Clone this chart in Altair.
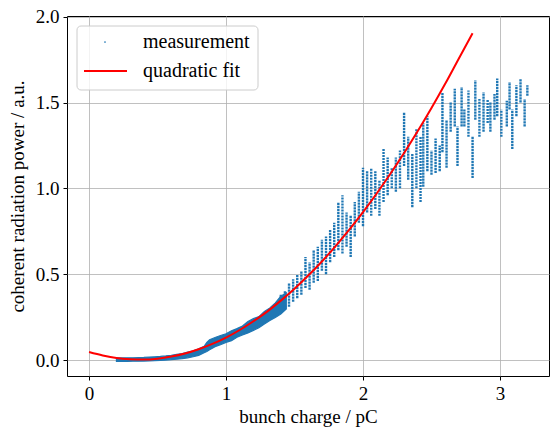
import altair as alt
import pandas as pd

# ---- measurement: dense low-charge band (x, lower y, upper y) ----
band_x = [0.20, 0.24, 0.28, 0.32, 0.36, 0.40, 0.44, 0.48, 0.52, 0.56, 0.60, 0.64, 0.68,
          0.72, 0.76, 0.80, 0.84, 0.86, 0.88, 0.92, 0.96, 1.00, 1.04, 1.08, 1.12, 1.16,
          1.20, 1.24, 1.28, 1.32, 1.36, 1.40, 1.44]
band_lo = [-0.008, -0.008, -0.008, -0.007, -0.007, -0.006, -0.005, -0.003, -0.002, 0.000,
           0.002, 0.005, 0.008, 0.013, 0.019, 0.027, 0.042, 0.050, 0.060, 0.078, 0.090,
           0.103, 0.113, 0.133, 0.146, 0.158, 0.173, 0.188, 0.210, 0.230, 0.248, 0.268,
           0.298]
band_hi = [0.012, 0.012, 0.013, 0.013, 0.014, 0.015, 0.017, 0.019, 0.021, 0.024, 0.028,
           0.033, 0.038, 0.046, 0.054, 0.066, 0.080, 0.103, 0.118, 0.131, 0.143, 0.153,
           0.171, 0.183, 0.198, 0.225, 0.241, 0.253, 0.283, 0.303, 0.333, 0.372, 0.392]

# ---- measurement: scattered stripes at higher charge (x, lower y, upper y) ----
stripe_x = [1.40, 1.43, 1.46, 1.49, 1.52, 1.55, 1.58, 1.61, 1.64, 1.67, 1.70, 1.73, 1.76,
            1.79, 1.82, 1.85, 1.88, 1.91, 1.94, 1.97, 2.00, 2.03, 2.06, 2.09, 2.12, 2.15,
            2.18, 2.21, 2.24, 2.27, 2.30, 2.33, 2.36, 2.39, 2.42, 2.44, 2.47, 2.50, 2.53,
            2.56, 2.58, 2.61, 2.64, 2.67, 2.69, 2.72, 2.74, 2.77, 2.80, 2.82, 2.85, 2.88,
            2.91, 2.93, 2.96, 2.98, 3.01, 3.05, 3.07, 3.09, 3.12, 3.15, 3.18, 3.20]
stripe_lo = [0.28, 0.30, 0.31, 0.34, 0.36, 0.38, 0.42, 0.41, 0.45, 0.46, 0.52, 0.50, 0.57,
             0.60, 0.64, 0.62, 0.66, 0.60, 0.72, 0.80, 0.78, 0.86, 0.84, 0.88, 0.84, 0.92,
             0.96, 1.00, 0.98, 1.00, 1.13, 1.05, 0.89, 1.00, 0.92, 1.01, 1.10, 1.08, 1.09,
             1.10, 1.21, 1.12, 1.33, 1.36, 1.13, 1.36, 1.36, 1.30, 1.06, 1.40, 1.30, 1.33,
             1.38, 1.33, 1.40, 1.42, 1.30, 1.36, 1.46, 1.23, 1.42, 1.50, 1.36, 1.54]
stripe_hi = [0.38, 0.40, 0.45, 0.47, 0.50, 0.52, 0.60, 0.57, 0.64, 0.66, 0.70, 0.72, 0.76,
             0.80, 0.92, 0.96, 0.86, 0.84, 0.92, 0.98, 1.12, 1.10, 1.12, 1.10, 1.05, 1.23,
             1.18, 1.12, 1.18, 1.22, 1.44, 1.30, 1.20, 1.35, 1.30, 1.38, 1.42, 1.22, 1.29,
             1.25, 1.56, 1.40, 1.50, 1.58, 1.36, 1.59, 1.46, 1.57, 1.30, 1.63, 1.52, 1.56,
             1.52, 1.50, 1.55, 1.64, 1.46, 1.51, 1.62, 1.46, 1.60, 1.64, 1.52, 1.60]

# ---- quadratic fit ----
fit_x = [0.0, 0.1, 0.2, 0.3, 0.4, 0.5, 0.6, 0.7, 0.8, 0.9, 1.0, 1.1, 1.2, 1.3, 1.4,
         1.5, 1.6, 1.7, 1.8, 1.9, 2.0, 2.1, 2.2, 2.3, 2.4, 2.5, 2.6, 2.7, 2.8]
fit_y = [0.047, 0.027, 0.012, 0.005, 0.003, 0.008, 0.020, 0.038, 0.063, 0.094, 0.131,
         0.175, 0.226, 0.282, 0.346, 0.415, 0.492, 0.574, 0.664, 0.759, 0.861, 0.970,
         1.085, 1.206, 1.334, 1.468, 1.609, 1.757, 1.904]

legend_labels = ["measurement", "quadratic fit"]
x_ticks = [0, 1, 2, 3]
y_ticks = [0.0, 0.5, 1.0, 1.5, 2.0]

FONT = "Liberation Serif"
BLUE = "#1f77b4"

band_df = pd.DataFrame({"x": band_x, "lo": band_lo, "hi": band_hi})
stripe_df = pd.DataFrame({"x": stripe_x, "lo": stripe_lo, "hi": stripe_hi})
fit_df = pd.DataFrame({"x": fit_x, "y": fit_y})
one = pd.DataFrame({"k": [0]})

xscale = alt.Scale(domain=[-0.161, 3.358], nice=False, zero=False)
yscale = alt.Scale(domain=[-0.093, 2.004], nice=False, zero=False)

common_axis = dict(grid=True, gridColor="#b0b0b0", gridWidth=0.8, domain=False,
                   ticks=True, tickColor="black", tickSize=4, tickWidth=1,
                   labelFont=FONT, labelFontSize=19, labelColor="black",
                   titleFont=FONT, titleFontSize=19, titleFontWeight="normal",
                   titleColor="black")
x_axis = alt.Axis(values=x_ticks, format="d", title="bunch charge / pC",
                  labelPadding=4, titlePadding=4, **common_axis)
y_axis = alt.Axis(values=y_ticks, format=".1f", title="coherent radiation power / a.u.",
                  labelPadding=4, titlePadding=8, **common_axis)

X = alt.X("x:Q", scale=xscale, axis=x_axis)

band = alt.Chart(band_df).mark_area(color=BLUE, opacity=1, stroke=BLUE,
                                    strokeWidth=1.2).encode(
    x=X,
    y=alt.Y("lo:Q", scale=yscale, axis=y_axis),
    y2="hi:Q",
)

stripes = alt.Chart(stripe_df).mark_rule(color=BLUE, strokeWidth=2.4,
                                         strokeDash=[2.2, 0.8]).encode(
    x=X,
    y=alt.Y("lo:Q", scale=yscale, axis=y_axis),
    y2="hi:Q",
)

fit = alt.Chart(fit_df).mark_line(color="red", strokeWidth=2,
                                  interpolate="monotone").encode(
    x=X,
    y=alt.Y("y:Q", scale=yscale, axis=y_axis),
)

# ---- legend box (matplotlib style) ----
leg_box = alt.Chart(one).mark_rect(fill="white", fillOpacity=0.8, stroke="#cccccc",
                                   strokeWidth=1, cornerRadius=4).encode(
    x=alt.value(10), x2=alt.value(191), y=alt.value(10), y2=alt.value(74))
leg_dot = alt.Chart(one).mark_point(filled=True, color=BLUE, size=3, opacity=1).encode(
    x=alt.value(38), y=alt.value(26))
leg_line = alt.Chart(one).mark_rule(color="red", strokeWidth=2).encode(
    x=alt.value(17), x2=alt.value(60), y=alt.value(55))
leg_t1 = alt.Chart(one).mark_text(text=legend_labels[0], font=FONT, fontSize=20,
                                  align="left", baseline="middle", color="black").encode(
    x=alt.value(76), y=alt.value(26))
leg_t2 = alt.Chart(one).mark_text(text=legend_labels[1], font=FONT, fontSize=20,
                                  align="left", baseline="middle", color="black").encode(
    x=alt.value(76), y=alt.value(55))

chart = alt.layer(band, stripes, fit, leg_box, leg_dot, leg_line, leg_t1, leg_t2).properties(
    width=482, height=360,
    padding={"left": 67, "top": 16, "right": 1, "bottom": 52},
    autosize=alt.AutoSizeParams(type="none"),
    background="white",
).configure_view(stroke="black", strokeWidth=1)

chart.save("out.html", embed_options={"renderer": "svg", "actions": False})
